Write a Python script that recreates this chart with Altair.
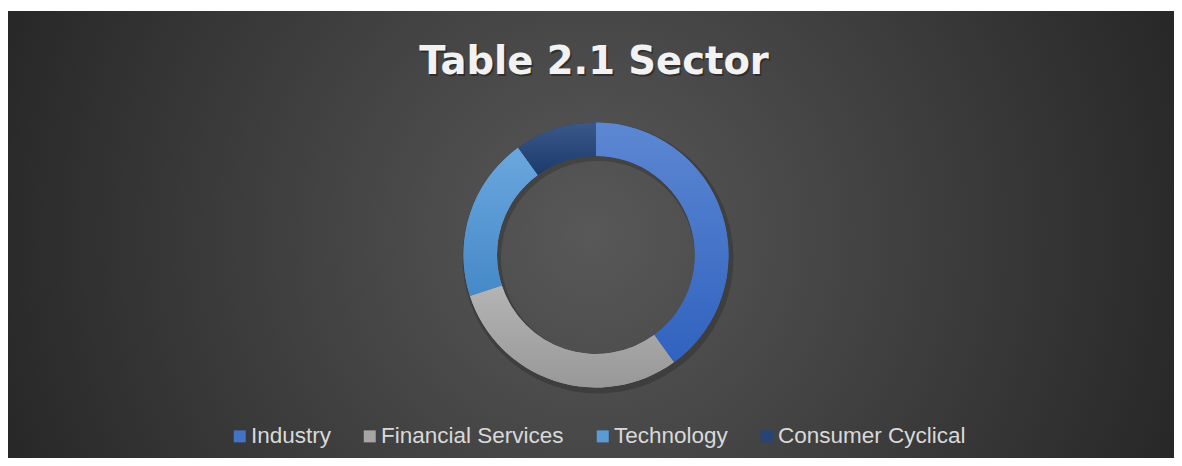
import altair as alt
import pandas as pd

# ---- data ----
categories = ["Industry", "Financial Services", "Technology", "Consumer Cyclical"]
values = [40, 30, 20, 10]
solid_colors = ["#4472C4", "#A5A5A5", "#5B9BD5", "#264478"]
grad_top = ["#5C87D2", "#B4B4B4", "#6BA7DE", "#3A5889"]
grad_bottom = ["#3062BF", "#989898", "#4589C8", "#1D3A6C"]
title_text = ["Table 2.1 Sector"]

W, H = 1166, 447
CX, CY = 588, 244
R_OUT, R_IN = 132.5, 99

df = pd.DataFrame({"category": categories, "value": values, "idx": list(range(len(categories)))})

base = (
    alt.Chart(df)
    .transform_window(end="sum(value)", sort=[alt.SortField("idx")], frame=[None, 0])
    .transform_calculate(start="datum.end - datum.value")
)

theta_scale = alt.Scale(domain=[0, sum(values)])

# background radial gradient
bg = (
    alt.Chart(pd.DataFrame({"a": [0]}))
    .mark_rect(
        fill=alt.RadialGradient(
            gradient="radial",
            stops=[
                alt.GradientStop(color="#585858", offset=0),
                alt.GradientStop(color="#262626", offset=1),
            ],
            x1=0.5, y1=0.5, r1=0, x2=0.5, y2=0.5, r2=0.55,
        )
    )
    .encode(x=alt.value(0), x2=alt.value(W), y=alt.value(0), y2=alt.value(H))
)

shadow = base.mark_arc(
    innerRadius=R_IN - 2, outerRadius=R_OUT + 3, color="#000000", opacity=0.18
).encode(
    theta=alt.Theta("start:Q", scale=theta_scale),
    theta2="end:Q",
    x=alt.value(CX + 2),
    y=alt.value(CY + 3),
)

arcs = base.mark_arc(innerRadius=R_IN, outerRadius=R_OUT).encode(
    theta=alt.Theta("start:Q", scale=theta_scale),
    theta2="end:Q",
    x=alt.value(CX),
    y=alt.value(CY),
    color=alt.Color(
        "category:N",
        sort=categories,
        scale=alt.Scale(domain=categories, range=solid_colors),
        legend=alt.Legend(
            orient="none",
            direction="horizontal",
            legendX=220.5,
            legendY=414,
            title=None,
            symbolType="square",
            symbolSize=144,
            symbolStrokeWidth=0,
            symbolOpacity=1,
            labelFont="Liberation Sans",
            labelFontSize=22.5,
            labelColor="#D9D9D9",
            labelOffset=0,
            labelLimit=400,
            columnPadding=27,
        ),
    ),
)

grad_layers = []
for i, cat in enumerate(categories):
    grad_layers.append(
        base.transform_filter(alt.datum.category == cat)
        .mark_arc(
            innerRadius=R_IN,
            outerRadius=R_OUT,
            fill=alt.LinearGradient(
                gradient="linear",
                stops=[
                    alt.GradientStop(color=grad_top[i], offset=0),
                    alt.GradientStop(color=grad_bottom[i], offset=1),
                ],
                x1=0, y1=0, x2=0, y2=1,
            ),
        )
        .encode(
            theta=alt.Theta("start:Q", scale=theta_scale),
            theta2="end:Q",
            x=alt.value(CX),
            y=alt.value(CY),
        )
    )

tdf = pd.DataFrame({"t": title_text})
title_shadow = alt.Chart(tdf).mark_text(
    font="DejaVu Sans", fontSize=38.5, fontWeight="bold", color="#000000", opacity=0.35,
    align="center", baseline="alphabetic",
).encode(text="t:N", x=alt.value(586 + 1.5), y=alt.value(63 + 2))
title = alt.Chart(tdf).mark_text(
    font="DejaVu Sans", fontSize=38.5, fontWeight="bold", color="#F2F2F2",
    align="center", baseline="alphabetic",
).encode(text="t:N", x=alt.value(586), y=alt.value(63))

chart = (
    alt.layer(bg, shadow, arcs, *grad_layers, title_shadow, title)
    .properties(width=W, height=H, padding={"top": 3, "left": 0, "right": 0, "bottom": 0}, autosize="none")
    .configure_view(strokeWidth=0)
    .configure(background="white")
)

chart.save("out.html", embed_options={"renderer": "svg", "actions": False})
